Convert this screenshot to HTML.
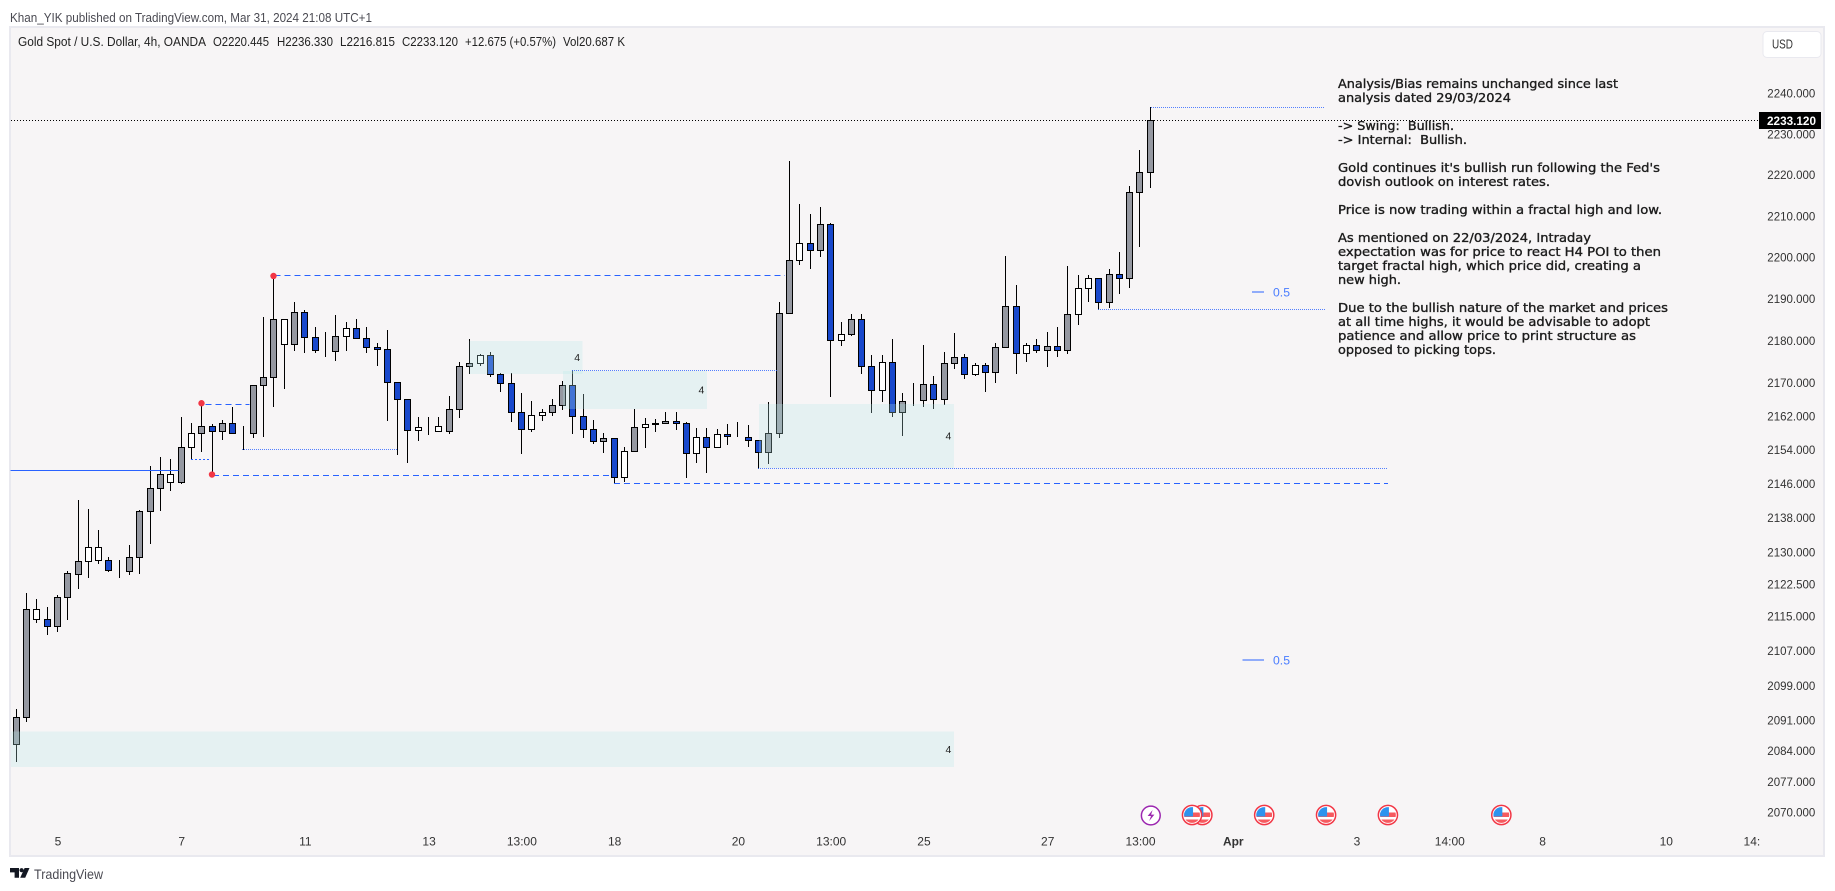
<!DOCTYPE html>
<html lang="en">
<head>
<meta charset="utf-8">
<title>Gold Spot / U.S. Dollar 4h chart</title>
<style>
html,body{margin:0;padding:0;background:#fff;width:1835px;height:891px;overflow:hidden}
svg{display:block}
text{font-family:"Liberation Sans",sans-serif}
.note{font-family:"DejaVu Sans","Liberation Sans",sans-serif;font-size:12px;fill:#1c1c1c;stroke:#1c1c1c;stroke-width:.35px}
.tick{font-size:12px;fill:#333}
</style>
</head>
<body>
<svg id="chart" width="1835" height="891" viewBox="0 0 1835 891" xmlns="http://www.w3.org/2000/svg">
  <text x="10" y="22" font-size="12.5" fill="#4a4a52" textLength="362" lengthAdjust="spacingAndGlyphs">Khan_YIK published on TradingView.com, Mar 31, 2024 21:08 UTC+1</text>
  <rect x="10" y="27" width="1814" height="829" fill="#f7f5f6" stroke="#e9e9ef" stroke-width="2"/>

  <g id="candles" shape-rendering="crispEdges"></g>
  <g id="zones"></g>
  <g id="levels" shape-rendering="crispEdges"></g>
  <g id="fractals"></g>

  <g font-size="12.5" fill="#222">
    <text x="18" y="46" textLength="188" lengthAdjust="spacingAndGlyphs">Gold Spot / U.S. Dollar, 4h, OANDA</text>
    <text x="213" y="46" textLength="56" lengthAdjust="spacingAndGlyphs">O2220.445</text>
    <text x="277" y="46" textLength="56" lengthAdjust="spacingAndGlyphs">H2236.330</text>
    <text x="340" y="46" textLength="55" lengthAdjust="spacingAndGlyphs">L2216.815</text>
    <text x="402" y="46" textLength="56" lengthAdjust="spacingAndGlyphs">C2233.120</text>
    <text x="465" y="46" textLength="91" lengthAdjust="spacingAndGlyphs">+12.675 (+0.57%)</text>
    <text x="563" y="46" textLength="62" lengthAdjust="spacingAndGlyphs">Vol20.687 K</text>
  </g>

  <g>
    <text class="note" x="1338" y="88" textLength="280" lengthAdjust="spacingAndGlyphs">Analysis/Bias remains unchanged since last</text>
    <text class="note" x="1338" y="102" textLength="173" lengthAdjust="spacingAndGlyphs">analysis dated 29/03/2024</text>
    <text class="note" x="1338" y="130" textLength="116" lengthAdjust="spacingAndGlyphs" xml:space="preserve">-&gt; Swing:  Bullish.</text>
    <text class="note" x="1338" y="144" textLength="129" lengthAdjust="spacingAndGlyphs" xml:space="preserve">-&gt; Internal:  Bullish.</text>
    <text class="note" x="1338" y="172" textLength="322" lengthAdjust="spacingAndGlyphs">Gold continues it's bullish run following the Fed's</text>
    <text class="note" x="1338" y="186" textLength="212" lengthAdjust="spacingAndGlyphs">dovish outlook on interest rates.</text>
    <text class="note" x="1338" y="214" textLength="324" lengthAdjust="spacingAndGlyphs">Price is now trading within a fractal high and low.</text>
    <text class="note" x="1338" y="242" textLength="253" lengthAdjust="spacingAndGlyphs">As mentioned on 22/03/2024, Intraday</text>
    <text class="note" x="1338" y="256" textLength="323" lengthAdjust="spacingAndGlyphs">expectation was for price to react H4 POI to then</text>
    <text class="note" x="1338" y="270" textLength="303" lengthAdjust="spacingAndGlyphs">target fractal high, which price did, creating a</text>
    <text class="note" x="1338" y="284" textLength="63" lengthAdjust="spacingAndGlyphs">new high.</text>
    <text class="note" x="1338" y="312" textLength="330" lengthAdjust="spacingAndGlyphs">Due to the bullish nature of the market and prices</text>
    <text class="note" x="1338" y="326" textLength="312" lengthAdjust="spacingAndGlyphs">at all time highs, it would be advisable to adopt</text>
    <text class="note" x="1338" y="340" textLength="298" lengthAdjust="spacingAndGlyphs">patience and allow price to print structure as</text>
    <text class="note" x="1338" y="354" textLength="158" lengthAdjust="spacingAndGlyphs">opposed to picking tops.</text>
  </g>

  <g id="fibs"></g>
  <g id="events"></g>
  <g id="y-axis"></g>
  <g id="x-axis"></g>

  <g>
    <rect x="1763" y="31.5" width="58" height="26" rx="4" fill="#fff" stroke="#e9e9ef"/>
    <text x="1772" y="48.5" font-size="12.5" fill="#333" textLength="21" lengthAdjust="spacingAndGlyphs">USD</text>
  </g>
  <g id="price-tag"></g>

  <g>
    <path d="M10 868h9v9.7h-4.4v-5.3H10z" fill="#131722"/>
    <circle cx="21.6" cy="870.2" r="2.1" fill="#131722"/>
    <path d="M24.6 868h4.9l-4.3 9.7h-5z" fill="#131722"/>
    <text x="34" y="879" font-size="14" fill="#4a4a52" textLength="69" lengthAdjust="spacingAndGlyphs">TradingView</text>
  </g>
</svg>

<script>
const kinds = ("g g w b g g g w w b " + "g g g g g w g w g b " + "g b g g g g w g b b " + "b g w b b b b b b w " +
  "g w g g g w b b b b " + "w w g g b b b g b w " + "g w b g b b w b w b " + "b b b g g g w b g b " +
  "w g b b w b g b g b " + "g g b w b g g b w b " + "g b g w w b g b g g g").trim().split(" ");

const opens = [
2085.1,2091.5,2114.1,2114.1,2112.5,2119.2,2124.6,2127.6,2127.9,2127.9,
2125.5,2125.3,2128.6,2139.3,2144.7,2146.2,2146.1,2154.4,2157.7,2159.4,
2158.2,2160.1,2157.7,2157.7,2169.1,2171.1,2178.9,2178.9,2186.6,2180.6,
2177.6,2177.3,2180.8,2182.8,2180.4,2178.2,2177.7,2169.8,2165.8,2158.4,
2159.4,2158.2,2158.2,2163.4,2173.7,2174.4,2176.3,2171.8,2169.6,2162.7,
2158.7,2162.0,2162.7,2164.4,2169.1,2161.8,2158.7,2155.8,2156.6,2147.3,
2153.5,2159.2,2160.1,2160.1,2160.6,2160.1,2153.0,2156.8,2154.4,2157.5,
2157.1,2156.8,2156.1,2153.2,2157.7,2186.4,2199.1,2203.2,2201.5,2207.9,
2179.9,2181.3,2184.9,2173.7,2167.9,2174.6,2162.7,2165.4,2165.6,2169.4,
2165.8,2174.4,2175.8,2171.8,2173.9,2172.2,2178.2,2188.0,2176.8,2178.7,
2177.5,2178.4,2177.5,2186.1,2192.4,2194.8,2189.0,2195.8,2194.8,2215.6,
2220.445];

const highs = [
2093.2,2120.0,2118.6,2116.8,2119.7,2125.3,2141.8,2139.7,2134.8,2128.4,
2127.9,2131.4,2139.6,2150.0,2152.1,2151.5,2161.6,2160.0,2164.9,2159.9,
2160.9,2163.8,2159.3,2169.1,2185.5,2195.4,2184.9,2189.1,2187.0,2183.1,
2181.7,2185.8,2184.3,2184.8,2183.1,2179.2,2182.2,2169.8,2165.8,2161.6,
2161.6,2161.6,2166.4,2174.7,2180.0,2176.6,2177.1,2172.0,2172.0,2167.2,
2165.2,2163.3,2165.9,2170.1,2172.8,2166.9,2160.7,2157.6,2156.6,2154.5,
2163.5,2161.3,2161.1,2162.8,2162.8,2160.4,2158.8,2158.8,2158.6,2159.8,
2160.2,2159.5,2156.1,2165.0,2188.9,2223.1,2212.6,2210.4,2212.1,2208.2,
2184.1,2186.2,2186.0,2176.4,2176.4,2180.2,2167.3,2169.5,2178.6,2171.2,
2177.1,2181.5,2176.6,2174.4,2174.4,2179.2,2200.2,2193.0,2179.2,2180.2,
2181.9,2182.9,2197.8,2195.4,2195.4,2194.8,2197.0,2201.0,2217.2,2225.8,
2236.33];

const lows = [
2081.2,2090.5,2113.4,2110.5,2111.3,2114.0,2121.3,2123.8,2127.1,2125.2,
2123.8,2124.6,2124.8,2131.8,2139.5,2144.2,2145.9,2151.6,2153.4,2148.0,
2156.2,2157.7,2154.0,2156.7,2157.0,2164.1,2168.4,2177.4,2177.0,2177.0,
2176.0,2175.0,2177.4,2180.4,2177.0,2173.9,2160.7,2152.7,2150.8,2156.0,
2157.4,2158.2,2157.7,2161.6,2171.9,2174.0,2171.2,2167.7,2160.5,2152.9,
2158.1,2160.7,2161.9,2163.5,2157.6,2156.7,2155.3,2153.2,2146.0,2146.3,
2153.5,2154.5,2158.1,2160.1,2158.6,2147.3,2150.8,2148.4,2154.4,2155.2,
2156.9,2154.6,2149.5,2150.5,2156.7,2186.4,2198.1,2197.1,2200.1,2166.5,
2178.6,2181.1,2172.0,2162.7,2165.3,2161.7,2157.2,2164.3,2164.1,2163.6,
2164.6,2173.1,2170.8,2171.4,2167.6,2169.8,2178.2,2172.0,2174.8,2177.0,
2173.6,2176.0,2176.7,2183.7,2189.2,2187.4,2187.7,2191.1,2192.6,2202.5,
2216.815];

const closes = [
2091.5,2116.4,2116.4,2112.5,2119.2,2124.7,2127.6,2130.9,2130.9,2125.5,
2125.5,2128.6,2139.3,2144.7,2148.0,2148.0,2154.4,2157.7,2159.4,2158.2,
2160.1,2157.7,2157.7,2169.1,2171.1,2184.9,2184.9,2186.6,2180.6,2177.5,
2177.4,2180.8,2182.8,2180.4,2178.2,2177.7,2169.8,2165.8,2158.4,2159.2,
2159.4,2159.4,2163.4,2173.7,2174.4,2176.3,2171.8,2169.6,2162.7,2158.7,
2162.0,2162.7,2164.4,2169.1,2161.8,2158.7,2155.8,2156.6,2147.3,2153.5,
2159.2,2159.9,2159.9,2160.6,2160.1,2153.0,2156.8,2154.4,2157.5,2157.0,
2156.9,2156.1,2153.2,2157.7,2186.4,2199.1,2203.2,2201.5,2207.9,2179.9,
2181.3,2184.9,2173.7,2167.9,2174.6,2162.7,2165.3,2165.3,2169.4,2165.8,
2174.4,2175.8,2171.8,2173.9,2172.2,2178.2,2188.0,2176.8,2178.7,2177.5,
2178.4,2177.5,2186.1,2192.4,2194.8,2189.0,2195.8,2194.8,2215.6,2220.5,
2233.12];

const priceTicks = [2240,2230,2220,2210,2200,2190,2180,2170,2162,2154,2146,2138,2130,2122.5,2115,2107,2099,2091,2084,2077,2070];
const timeTickBars = [4,16,28,40,49,58,70,79,88,100,109,118,130,139,148,160,168.3];
const timeTickLabels = ["5","7","11","13","13:00","18","20","13:00","25","27","13:00","Apr","3","14:00","8","10","14:"];

const dashedPrices = [2195.4,2164.6,2147.8,2145.9];
const dashedFrom = [25,18.3,19.05,57.95];
const dashedTo = [74.5,22.6,57.75,133];

const dottedPrices = [2153.9,2172.7,2149.4,2187.2,2236.33];
const dottedFrom = [21.85,53.85,71.9,104.9,110];
const dottedTo = [36.9,73.8,133,126.9,126.9];

const shortDottedPrices = [2151.6];
const shortDottedFrom = [16.9];
const shortDottedTo = [18.75];

const solidPrices = [2149.0];
const solidFrom = [-0.6];
const solidTo = [15.7];

const zoneFrom = [-0.55,43.9,53,72];
const zoneTo = [90.9,54.9,66.95,90.9];
const zoneHigh = [2088.2,2179.8,2172.6,2164.7];
const zoneLow = [2080.0,2171.9,2163.5,2149.5];
const zoneLabels = ["4","4","4","4"];

const fractalBars = [18,19,25];
const fractalPrices = [2164.9,2148.0,2195.4];

const fibBarFrom = [119.8,118.9];
const fibBarTo = [121,121];
const fibPrices = [2191.5,2104.7];
const fibLabels = ["0.5","0.5"];

const lightningEvents = [110];
const usEvents = [115,114,121,127,133,144];

const lastPrice = 2233.12;

const NS = "http://www.w3.org/2000/svg";
function xBar(i){ return Math.floor(16.2 + 10.31 * i) + 0.5; }
function xIdx(i){ return 16.7 + 10.31 * i; }
function yPrice(p){ return 93 + 9097 * Math.log(2240 / p); }
function snap(v){ return Math.floor(v) + 0.5; }
function make(tag, attrs, parent){
  const el = document.createElementNS(NS, tag);
  for (const k in attrs) el.setAttribute(k, attrs[k]);
  parent.appendChild(el);
  return el;
}

const candleGroup = document.getElementById("candles");
const fills = { g: "#9598a1", b: "#1848cc", w: "#ffffff" };
closes.forEach(function(c, i){
  const x = xBar(i);
  const wick = make("line", { x1: x, x2: x, y1: snap(yPrice(highs[i])) - 0.5, y2: snap(yPrice(lows[i])) + 0.5, stroke: "#000", "stroke-width": 1 }, candleGroup);
  
  
  const top = snap(yPrice(Math.max(opens[i], c)));
  const bot = snap(yPrice(Math.min(opens[i], c)));
  const body = make("rect", { x: x - 3, y: top, width: 6, height: bot - top, fill: fills[kinds[i]], stroke: "#000", "stroke-width": 1 }, candleGroup);
  
  
});

const zoneGroup = document.getElementById("zones");
zoneFrom.forEach(function(f, i){
  const x1 = xIdx(f), x2 = xIdx(zoneTo[i]), y1 = yPrice(zoneHigh[i]), y2 = yPrice(zoneLow[i]);
  const r = make("rect", { x: x1, y: y1, width: x2 - x1, height: y2 - y1, fill: "rgba(182,232,234,0.27)", "shape-rendering": "crispEdges" }, zoneGroup);
  
  
  const t = make("text", { x: x2 - 5.5, y: (y1 + y2) / 2 + 3.5, "text-anchor": "middle", "font-size": 10.5, fill: "#222" }, zoneGroup);
  
  
  t.textContent = zoneLabels[i];
});

const levelGroup = document.getElementById("levels");
function drawLevels(prices, from, to, stroke, dash, opacity, name){
  prices.forEach(function(p, i){
    const y = snap(yPrice(p));
    const attrs = { x1: xIdx(from[i]), x2: xIdx(to[i]), y1: y, y2: y, stroke: stroke, "stroke-width": 1, "stroke-opacity": opacity };
    if (dash) attrs["stroke-dasharray"] = dash;
    const l = make("line", attrs, levelGroup);
    
    
  });
}
drawLevels(solidPrices, solidFrom, solidTo, "#2962ff", null, 1, "solid-level");
drawLevels(dashedPrices, dashedFrom, dashedTo, "#2962ff", "6 4", 1, "dashed-level");
drawLevels(dottedPrices, dottedFrom, dottedTo, "#2962ff", "1 1", 0.8, "dotted-level");
drawLevels(shortDottedPrices, shortDottedFrom, shortDottedTo, "#2962ff", "2 2", 1, "dotted-level");

const lastY = snap(yPrice(lastPrice));
const priceLine = make("line", { x1: 11, x2: 1758, y1: lastY, y2: lastY, stroke: "#000", "stroke-width": 1, "stroke-dasharray": "1 2" }, levelGroup);



const fractalGroup = document.getElementById("fractals");
fractalBars.forEach(function(b, i){
  const d = make("circle", { cx: xBar(b) + (i === 1 ? -0.5 : 0), cy: yPrice(fractalPrices[i]), r: 3.2, fill: "#f23645" }, fractalGroup);
  
  
});

const fibGroup = document.getElementById("fibs");
fibPrices.forEach(function(p, i){
  const y = yPrice(p);
  const l = make("line", { x1: xIdx(fibBarFrom[i]), x2: xIdx(fibBarTo[i]), y1: y, y2: y, stroke: "#2962ff", "stroke-width": 1, "shape-rendering": "crispEdges" }, fibGroup);
  
  
  const t = make("text", { x: 1273, y: y + 4.5, "font-size": 12, fill: "#4a7dff", textLength: 17, lengthAdjust: "spacingAndGlyphs" }, fibGroup);
  
  
  t.textContent = fibLabels[i];
});

const eventGroup = document.getElementById("events");
const eventY = 815;
const defs = make("defs", {}, eventGroup);
usEvents.forEach(function(b, i){
  const cx = xIdx(b);
  const clip = make("clipPath", { id: "flag-clip-" + i }, defs);
  make("circle", { cx: cx, cy: eventY, r: 7.9 }, clip);
  const g = make("g", {}, eventGroup);
  
  
  make("circle", { cx: cx, cy: eventY, r: 9.6, fill: "#fff", stroke: "#f23645", "stroke-width": 1.5 }, g);
  const inner = make("g", { "clip-path": "url(#flag-clip-" + i + ")" }, g);
  make("rect", { x: cx - 9, y: eventY - 9, width: 18, height: 18, fill: "#fff" }, inner);
  make("rect", { x: cx - 9, y: eventY - 2.5, width: 18, height: 4.5, fill: "#f65a5f" }, inner);
  make("rect", { x: cx - 9, y: eventY + 4.5, width: 18, height: 5, fill: "#f65a5f" }, inner);
  make("rect", { x: cx - 9, y: eventY - 9, width: 10, height: 10.5, fill: "#2e93ee" }, inner);
});
lightningEvents.forEach(function(b){
  const cx = xIdx(b);
  const g = make("g", {}, eventGroup);
  
  
  make("circle", { cx: cx, cy: eventY + 0.5, r: 9.4, fill: "#fff", stroke: "#9c27b0", "stroke-width": 1.5 }, g);
  make("path", { d: "M" + (cx + 1.8) + " " + (eventY - 5) + "l-5 6h3.4l-1.8 5 5.2-6.4h-3.3z", fill: "#9c27b0" }, g);
});

const yAxis = document.getElementById("y-axis");
priceTicks.forEach(function(t){
  const y = yPrice(t);
  const el = make("text", { "class": "tick", x: 1767.3, y: y + 4.5 + (y - 93) * 0.0016, textLength: 48, lengthAdjust: "spacingAndGlyphs" }, yAxis);
  
  
  el.textContent = t.toFixed(3);
});

const xAxis = document.getElementById("x-axis");
timeTickBars.forEach(function(b, i){
  const label = timeTickLabels[i];
  const el = make("text", { "class": "tick", x: xIdx(b), y: 845.5, "text-anchor": "middle" }, xAxis);
  
  
  if (label === "Apr") el.setAttribute("font-weight", "bold");
  el.textContent = label;
});

const tagGroup = document.getElementById("price-tag");
const tagBox = make("rect", { x: 1759, y: lastY - 8.5, width: 62, height: 17, fill: "#000" }, tagGroup);


const tagText = make("text", { x: 1767, y: lastY + 4.5, "font-size": 12, "font-weight": "bold", fill: "#fff", textLength: 49, lengthAdjust: "spacingAndGlyphs" }, tagGroup);


tagText.textContent = lastPrice.toFixed(3);
</script>
</body>
</html>
